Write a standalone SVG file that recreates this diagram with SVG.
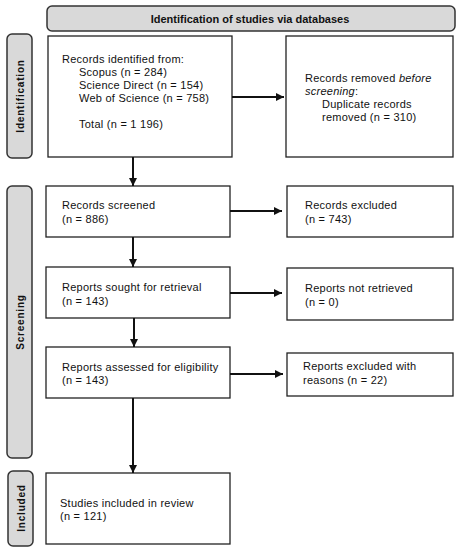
<svg xmlns="http://www.w3.org/2000/svg" width="460" height="550" viewBox="0 0 460 550">
<defs>
<marker id="ah" viewBox="0 0 10 10" refX="10" refY="5" markerWidth="4" markerHeight="4" markerUnits="strokeWidth" orient="auto"><path d="M0,0 L10,5 L0,10 z" fill="#111"/></marker>
<style>
.box{fill:#fff;stroke:#222;stroke-width:1.3}
.lab{fill:#d9d9d9;stroke:#333;stroke-width:1.5}
.t{font-family:"Liberation Sans",Arial,sans-serif;font-size:11px;letter-spacing:0.25px;fill:#111}
.b{font-family:"Liberation Sans",Arial,sans-serif;font-size:11px;font-weight:bold;fill:#111}
.side{font-family:"Liberation Sans",Arial,sans-serif;font-size:10px;font-weight:bold;fill:#111;letter-spacing:0.8px}
.c{stroke:#111;stroke-width:2;fill:none;marker-end:url(#ah)}
</style>
</defs>
<rect width="460" height="550" fill="#fff"/>
<g id="title"><rect class="lab" x="47" y="6" width="408" height="25" rx="5"/><text class="b" x="250" y="23" text-anchor="middle">Identification of studies via databases</text></g>
<g id="lab-identification"><rect class="lab" x="7" y="34" width="25" height="124" rx="5"/><text class="side" transform="translate(23.5,96) rotate(-90)" text-anchor="middle">Identification</text></g>
<g id="lab-screening"><rect class="lab" x="7" y="186" width="25" height="272" rx="5"/><text class="side" transform="translate(23.5,322) rotate(-90)" text-anchor="middle">Screening</text></g>
<g id="lab-included"><rect class="lab" x="8" y="471" width="25" height="75" rx="5"/><text class="side" transform="translate(24.5,508) rotate(-90)" text-anchor="middle">Included</text></g>
<g id="identified"><rect class="box" x="48" y="36" width="184" height="121"/>
<text class="t" x="62" y="63">Records identified from:</text>
<text class="t" x="79" y="76">Scopus (n = 284)</text>
<text class="t" x="79" y="89">Science Direct (n = 154)</text>
<text class="t" x="79" y="102">Web of Science (n = 758)</text>
<text class="t" x="79" y="128">Total (n = 1 196)</text></g>
<g id="removed"><rect class="box" x="286" y="36" width="167" height="121"/>
<text class="t" x="305" y="82">Records removed <tspan font-style="italic">before</tspan></text>
<text class="t" x="305" y="95"><tspan font-style="italic">screening</tspan>:</text>
<text class="t" x="322" y="108">Duplicate records</text>
<text class="t" x="322" y="121">removed (n = 310)</text></g>
<g id="screened"><rect class="box" x="46" y="186" width="184" height="51"/>
<text class="t" x="62" y="209">Records screened</text><text class="t" x="62" y="223">(n = 886)</text></g>
<g id="excluded"><rect class="box" x="287" y="186" width="166" height="51"/>
<text class="t" x="305" y="209">Records excluded</text><text class="t" x="305" y="223">(n = 743)</text></g>
<g id="sought"><rect class="box" x="46" y="267" width="184" height="51"/>
<text class="t" x="62" y="291">Reports sought for retrieval</text><text class="t" x="62" y="305">(n = 143)</text></g>
<g id="notretrieved"><rect class="box" x="287" y="268" width="166" height="52"/>
<text class="t" x="305" y="292">Reports not retrieved</text><text class="t" x="305" y="306">(n = 0)</text></g>
<g id="assessed"><rect class="box" x="46" y="347" width="184" height="51"/>
<text class="t" x="62" y="371">Reports assessed for eligibility</text><text class="t" x="62" y="384">(n = 143)</text></g>
<g id="excl-reasons"><rect class="box" x="287" y="353" width="166" height="43"/>
<text class="t" x="303" y="370">Reports excluded with</text><text class="t" x="303" y="384">reasons (n = 22)</text></g>
<g id="included"><rect class="box" x="46" y="473" width="184" height="71"/>
<text class="t" x="60" y="507">Studies included in review</text><text class="t" x="60" y="520">(n = 121)</text></g>
<g id="connectors">
<line class="c" x1="232" y1="97" x2="284" y2="97"/>
<line class="c" x1="133" y1="157" x2="133" y2="186"/>
<line class="c" x1="230" y1="211" x2="282" y2="211"/>
<line class="c" x1="133" y1="237" x2="133" y2="267"/>
<line class="c" x1="230" y1="293" x2="282" y2="293"/>
<line class="c" x1="134" y1="318" x2="134" y2="347"/>
<line class="c" x1="230" y1="374" x2="283" y2="374"/>
<line class="c" x1="133" y1="398" x2="133" y2="473"/>
</g>
</svg>
